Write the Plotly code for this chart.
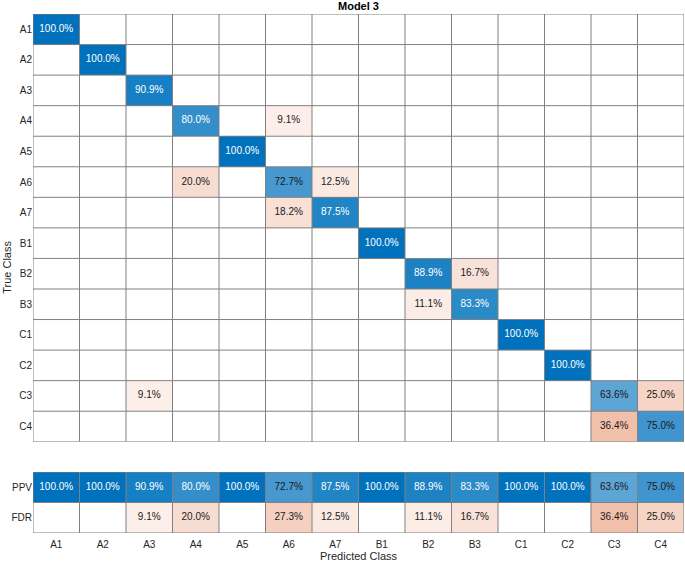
import plotly.graph_objects as go

# Column-normalized confusion chart values (%), rows = true class, cols = predicted class
classes = ["A1", "A2", "A3", "A4", "A5", "A6", "A7", "B1", "B2", "B3", "C1", "C2", "C3", "C4"]

cell_pct = [
    [100.0, 0, 0, 0, 0, 0, 0, 0, 0, 0, 0, 0, 0, 0],
    [0, 100.0, 0, 0, 0, 0, 0, 0, 0, 0, 0, 0, 0, 0],
    [0, 0, 90.9, 0, 0, 0, 0, 0, 0, 0, 0, 0, 0, 0],
    [0, 0, 0, 80.0, 0, 9.1, 0, 0, 0, 0, 0, 0, 0, 0],
    [0, 0, 0, 0, 100.0, 0, 0, 0, 0, 0, 0, 0, 0, 0],
    [0, 0, 0, 20.0, 0, 72.7, 12.5, 0, 0, 0, 0, 0, 0, 0],
    [0, 0, 0, 0, 0, 18.2, 87.5, 0, 0, 0, 0, 0, 0, 0],
    [0, 0, 0, 0, 0, 0, 0, 100.0, 0, 0, 0, 0, 0, 0],
    [0, 0, 0, 0, 0, 0, 0, 0, 88.9, 16.7, 0, 0, 0, 0],
    [0, 0, 0, 0, 0, 0, 0, 0, 11.1, 83.3, 0, 0, 0, 0],
    [0, 0, 0, 0, 0, 0, 0, 0, 0, 0, 100.0, 0, 0, 0],
    [0, 0, 0, 0, 0, 0, 0, 0, 0, 0, 0, 100.0, 0, 0],
    [0, 0, 9.1, 0, 0, 0, 0, 0, 0, 0, 0, 0, 63.6, 25.0],
    [0, 0, 0, 0, 0, 0, 0, 0, 0, 0, 0, 0, 36.4, 75.0],
]

ppv = [100.0, 100.0, 90.9, 80.0, 100.0, 72.7, 87.5, 100.0, 88.9, 83.3, 100.0, 100.0, 63.6, 75.0]
fdr = [0, 0, 9.1, 20.0, 0, 27.3, 12.5, 0, 11.1, 16.7, 0, 0, 36.4, 25.0]
summary_labels = ["PPV", "FDR"]

BLUE = (0, 114, 189)
ORANGE = (217, 83, 25)
FONT = "Liberation Sans, Arial, sans-serif"
TXT = "#262626"
LINE = "#808080"


def blend(base, v):
    a = v / 100.0
    return tuple(255 - a * (255 - c) for c in base)


def text_color(base, v):
    r, g, b = blend(base, v)
    lum = 0.299 * r + 0.587 * g + 0.114 * b
    return "white" if lum < 126 else "#1a1a1a"


n = len(classes)
idx = list(range(n))

diag_z = [[cell_pct[i][j] if (i == j and cell_pct[i][j] > 0) else None for j in idx] for i in idx]
off_z = [[cell_pct[i][j] if (i != j and cell_pct[i][j] > 0) else None for j in idx] for i in idx]

blue_scale = [[0, "white"], [1, "rgb(0,114,189)"]]
orange_scale = [[0, "white"], [1, "rgb(217,83,25)"]]

fig = go.Figure()

fig.add_trace(go.Heatmap(z=diag_z, x=idx, y=idx, colorscale=blue_scale, zmin=0, zmax=100,
                         showscale=False, hoverinfo="skip", xaxis="x", yaxis="y"))
fig.add_trace(go.Heatmap(z=off_z, x=idx, y=idx, colorscale=orange_scale, zmin=0, zmax=100,
                         showscale=False, hoverinfo="skip", xaxis="x", yaxis="y"))

# summary rows
fig.add_trace(go.Heatmap(z=[ppv, [None] * n], x=idx, y=[0, 1], colorscale=blue_scale, zmin=0, zmax=100,
                         showscale=False, hoverinfo="skip", xaxis="x2", yaxis="y2"))
fig.add_trace(go.Heatmap(z=[[None] * n, [v if v > 0 else None for v in fdr]], x=idx, y=[0, 1],
                         colorscale=orange_scale, zmin=0, zmax=100,
                         showscale=False, hoverinfo="skip", xaxis="x2", yaxis="y2"))

# cell texts
tx, ty, tt, tc = [], [], [], []
for i in idx:
    for j in idx:
        v = cell_pct[i][j]
        if v > 0:
            tx.append(j)
            ty.append(i)
            tt.append(f"{v:.1f}%")
            tc.append(text_color(BLUE if i == j else ORANGE, v))
fig.add_trace(go.Scatter(x=tx, y=ty, mode="text", text=tt, textfont=dict(color=tc, size=10, family=FONT),
                         hoverinfo="skip", showlegend=False, xaxis="x", yaxis="y"))

sx, sy, st, sc = [], [], [], []
for j in idx:
    sx.append(j); sy.append(0); st.append(f"{ppv[j]:.1f}%"); sc.append(text_color(BLUE, ppv[j]))
    if fdr[j] > 0:
        sx.append(j); sy.append(1); st.append(f"{fdr[j]:.1f}%"); sc.append(text_color(ORANGE, fdr[j]))
fig.add_trace(go.Scatter(x=sx, y=sy, mode="text", text=st, textfont=dict(color=sc, size=10, family=FONT),
                         hoverinfo="skip", showlegend=False, xaxis="x2", yaxis="y2"))

# grid lines
shapes = []
for k in range(n + 1):
    b = k - 0.5
    shapes.append(dict(type="line", xref="x", yref="y", x0=b, x1=b, y0=-0.5, y1=n - 0.5,
                       line=dict(color=LINE, width=1)))
    shapes.append(dict(type="line", xref="x", yref="y", x0=-0.5, x1=n - 0.5, y0=b, y1=b,
                       line=dict(color=LINE, width=1)))
    shapes.append(dict(type="line", xref="x2", yref="y2", x0=b, x1=b, y0=-0.5, y1=1.5,
                       line=dict(color=LINE, width=1)))
for b in [-0.5, 0.5, 1.5]:
    shapes.append(dict(type="line", xref="x2", yref="y2", x0=-0.5, x1=n - 0.5, y0=b, y1=b,
                       line=dict(color=LINE, width=1)))

axis_common = dict(showgrid=False, zeroline=False, showline=False, ticks="",
                   tickfont=dict(size=10, family=FONT, color=TXT))

fig.update_layout(
    width=685,
    height=563,
    margin=dict(l=33, r=1, t=14, b=30),
    plot_bgcolor="white",
    paper_bgcolor="white",
    showlegend=False,
    shapes=shapes,
    xaxis=dict(axis_common, domain=[0, 1], range=[-0.5, n - 0.5], anchor="y",
               showticklabels=False),
    yaxis=dict(axis_common, domain=[0.1758, 1], range=[n - 0.5, -0.5], anchor="x",
               tickmode="array", tickvals=idx, ticktext=classes),
    xaxis2=dict(axis_common, domain=[0, 1], range=[-0.5, n - 0.5], anchor="y2",
                tickmode="array", tickvals=idx, ticktext=classes, ticklabelstandoff=4),
    yaxis2=dict(axis_common, domain=[0, 0.1175], range=[1.5, -0.5], anchor="x2",
                tickmode="array", tickvals=[0, 1], ticktext=summary_labels),
    annotations=[
        dict(text="<b>Model 3</b>", xref="paper", yref="paper", x=0.5, y=1, yshift=8,
             showarrow=False, font=dict(size=11, family=FONT, color="black"), yanchor="middle"),
        dict(text="True Class", xref="paper", yref="paper", x=-0.04, y=0.5128, textangle=-90,
             showarrow=False, font=dict(size=11, family=FONT, color=TXT), xanchor="center",
             yanchor="middle"),
        dict(text="Predicted Class", xref="paper", yref="paper", x=0.5, y=0, yshift=-23,
             showarrow=False, font=dict(size=11, family=FONT, color=TXT), yanchor="middle"),
    ],
)

# drop the default 8px body margin so the figure sits at the page corner
fig.write_html("out.html", config={"displayModeBar": False},
               post_script="document.body.style.margin='0';")
